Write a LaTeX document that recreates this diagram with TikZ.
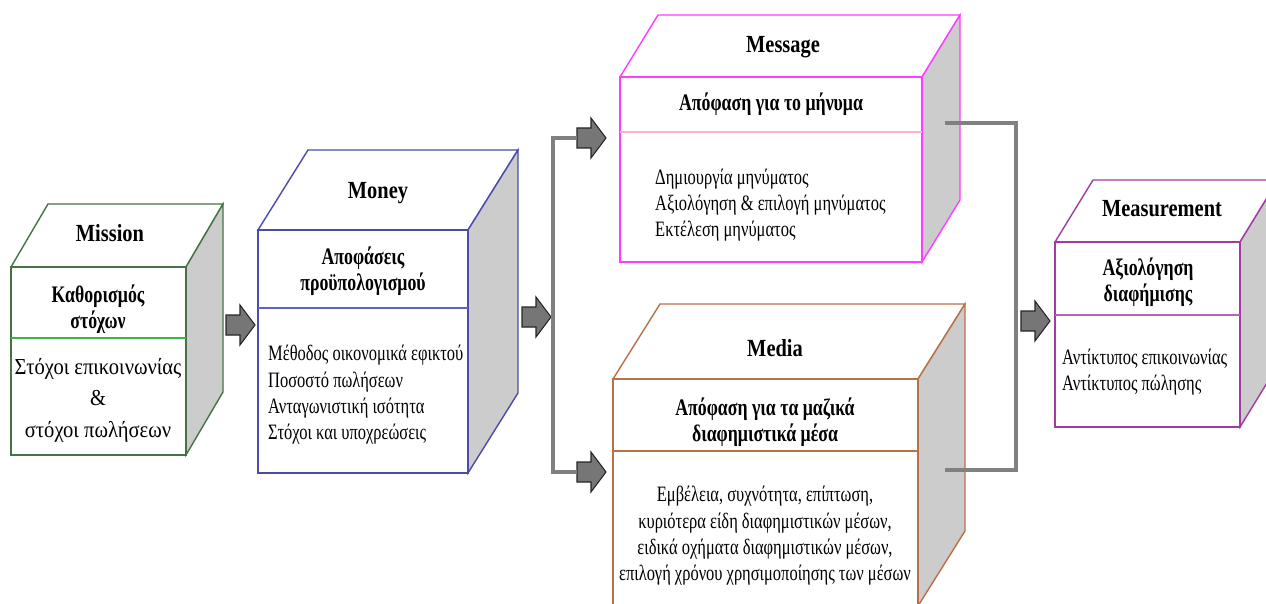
\documentclass[tikz,border=0pt]{standalone}
\usepackage{fontspec}
\setmainfont{Liberation Serif}[FakeStretch=0.75]
\newfontfamily\titlefont{Liberation Serif}[FakeStretch=0.83]
\newfontfamily\widefont{Liberation Serif}[FakeStretch=0.9]
\usetikzlibrary{positioning}

\definecolor{sidegray}{RGB}{204,204,204}
\definecolor{linkgray}{RGB}{128,128,128}
\definecolor{arrowgray}{RGB}{118,118,118}
\definecolor{missiongreen}{RGB}{70,115,70}
\definecolor{missionline}{RGB}{60,180,70}
\definecolor{moneyblue}{RGB}{75,75,170}
\definecolor{moneyline}{RGB}{95,95,205}
\definecolor{messagepink}{RGB}{255,60,255}
\definecolor{messageline}{RGB}{255,175,210}
\definecolor{mediabrown}{RGB}{185,112,72}
\definecolor{measurepurple}{RGB}{160,60,160}
\definecolor{measureline}{RGB}{180,100,180}

% box drawn as a cube: colour, front top-left, front bottom-right, depth, divider y, divider colour
\newcommand{\adcube}[9]{%
  \draw[#1, line width=0.8pt, fill=white] (#2,#3) -- ++(#6,-#7) -- ({#4+#6},{#3-#7}) -- (#4,#3) -- cycle;
  \draw[#1, line width=0.8pt, fill=sidegray] (#4,#3) -- ({#4+#6},{#3-#7}) -- ({#4+#6},{#5-#7}) -- (#4,#5) -- cycle;
  \draw[#1, line width=0.8pt, fill=white] (#2,#3) rectangle (#4,#5);
  \draw[#9, line width=0.8pt] (#2,#8) -- (#4,#8);
}

% fat grey arrow: name, tail x, centre y
\newcommand{\blockarr}[3]{%
  \coordinate (#1) at (#2,#3);
  \draw[blockarrow, shift={(#1)}] (0,-10) -- (14,-10) -- (14,-20) -- (29,0) -- (14,20) -- (14,10) -- (0,10) -- cycle;
}

\begin{document}
\begin{tikzpicture}[x=0.02cm, y=-0.02cm,
    title/.style={font=\titlefont\bfseries\fontsize{14}{16}\selectfont},
    head/.style={font=\bfseries\fontsize{13.5}{14.5}\selectfont, align=center},
    body/.style={font=\fontsize{12.5}{15}\selectfont, align=left},
    link/.style={draw=linkgray, line width=2.2pt},
    blockarrow/.style={fill=arrowgray, draw=black!85, line width=0.6pt}]
    % Page area, pixel units with y going down
    \useasboundingbox (0,0) rectangle (1266,604);
    \clip (0,0) rectangle (1266,604);

    % Mission
    \adcube{missiongreen}{11}{267}{186}{455}{37}{63}{338}{missionline}
    \node[title] (missiontitle) at (110,233) {Mission};
    \node[head] (missionhead) at (98,309) {Καθορισμός\\στόχων};
    \node[body, align=center, font=\widefont\fontsize{13}{17.9}\selectfont] (missionbody) at (98,400) {Στόχοι επικοινωνίας\\\&\\στόχοι πωλήσεων};

    % Money
    \adcube{moneyblue}{258}{230}{468}{473}{50}{80}{308}{moneyline}
    \node[title] (moneytitle) at (378,193) {Money};
    \node[head] (moneyhead) at (363,271) {Αποφάσεις\\προϋπολογισμού};
    \node[body, anchor=west] (moneybody) at (262,395) {Μέθοδος οικονομικά εφικτού\\Ποσοστό πωλήσεων\\Ανταγωνιστική ισότητα\\Στόχοι και υποχρεώσεις};

    % Message
    \adcube{messagepink}{620}{77}{922}{262}{38}{62}{132}{messageline}
    \node[title] (messagetitle) at (783,47) {Message};
    \node[head] (messagehead) at (771,104) {Απόφαση για το μήνυμα};
    \node[body, anchor=west] (messagebody) at (649,205) {Δημιουργία μηνύματος\\Αξιολόγηση \& επιλογή μηνύματος\\Εκτέλεση μηνύματος};

    % Media
    \adcube{mediabrown}{613}{379}{918}{606}{47}{75}{451}{mediabrown}
    \node[title] (mediatitle) at (775,348) {Media};
    \node[head] (mediahead) at (765,422) {Απόφαση για τα μαζικά\\διαφημιστικά μέσα};
    \node[body, align=center] (mediabody) at (765,536) {Εμβέλεια, συχνότητα, επίπτωση,\\κυριότερα είδη διαφημιστικών μέσων,\\ειδικά οχήματα διαφημιστικών μέσων,\\επιλογή χρόνου χρησιμοποίησης των μέσων};

    % Measurement
    \adcube{measurepurple}{1055}{242}{1240}{427}{38}{62}{315}{measureline}
    \node[title] (measuretitle) at (1162,209) {Measurement};
    \node[head] (measurehead) at (1148,282) {Αξιολόγηση\\διαφήμισης};
    \node[body, anchor=west] (measurebody) at (1056,372) {Αντίκτυπος επικοινωνίας\\Αντίκτυπος πώλησης};

    % Grey arrows between the boxes
    \blockarr{toMoney}{226}{325}
    \blockarr{toSplit}{522}{317}
    \blockarr{toMessage}{577}{138}
    \blockarr{toMedia}{577}{472}
    \blockarr{toMeasure}{1021}{321}

    % Split line and joining line
    \coordinate (split) at (553,300);
    \coordinate (msgout) at (945,123);
    \coordinate (medout) at (945,470);
    \coordinate (join) at (1016,300);
    \draw[link] (toMessage) -| (split) |- (toMedia);
    \draw[link] (msgout) -| (join) |- (medout);
\end{tikzpicture}
\end{document}
